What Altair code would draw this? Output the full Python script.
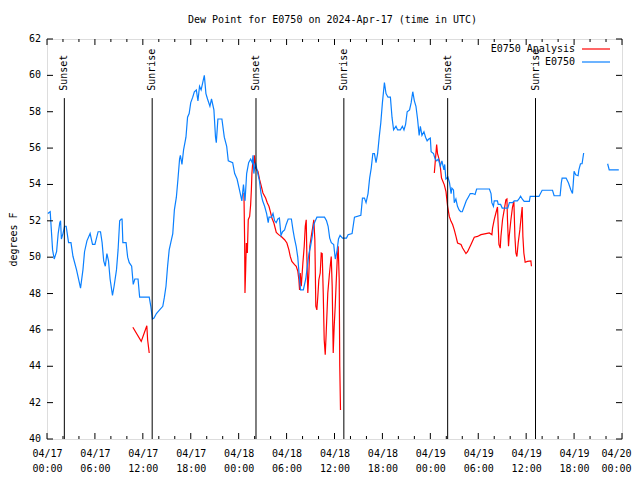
import altair as alt
import pandas as pd

# ---- data (hours since 2024-04-17 00:00 UTC, dew point in F) ----
# None marks a gap in the record
blue_hours = [0.1, 0.4, 0.7, 0.9, 1.2, 1.4, 1.6, 1.7, 1.8, 2.0, 2.2, 2.4, 2.7, 3.0, 3.25, 3.7, 4.2, 4.5, 4.7, 5.0,
              5.4, 5.7, 6.0, 6.4, 6.7, 6.9, 7.1, 7.3, 7.5, 7.7, 7.9, 8.2, 8.4, 8.7, 8.9, 9.1, 9.3, 9.4, 9.5, 9.9,
              10.1, 10.3, 10.6, 10.8, 11.0, 11.4, 11.6, 12.8, 13.0, 13.2, 13.4, 13.7, 14.1, 14.5, 14.7, 14.9, 15.1, 15.3, 15.5, 15.75,
              15.95, 16.2, 16.4, 16.6, 16.7, 16.9, 17.1, 17.4, 17.6, 17.8, 18.0, 18.25, 18.45, 18.7, 18.9, 19.1, 19.3, 19.5, 19.7, 19.9,
              20.1, 20.4, 20.6, 20.9, 21.1, 21.2, 21.4, 21.9, 22.2, 22.5, 22.7, 23.25, 23.5, 23.8, 24.1, 24.4, 24.6, 24.8, 25.0, 25.25,
              25.5, 25.7, 25.8, 25.9, 26.1, 26.4, 26.6, 26.8, 27.0, 27.25, 27.5, 27.7, 27.8, 28.1, 28.3, 28.5, 28.7, 28.9, 29.1, 29.3,
              29.5, 29.75, 29.95, 30.2, 30.6, 30.8, 31.0, 31.2, 31.4, 31.6, 31.75, 32.1, 32.4, 32.6, 32.8, 33.0, 33.2, 33.4, 33.6, 33.8,
              34.1, 34.75, 35.0, 35.2, 35.4, 35.6, 35.9, 36.1, 36.3, 36.5, 36.7, 37.0, 37.5, 37.7, 38.2, 38.5, 39.3, 39.5, 39.75, 39.95,
              40.2, 40.4, 40.6, 40.8, 41.0, 41.2, 41.4, 41.6, 41.8, 42.0, 42.25, 42.45, 42.7, 43.0, 43.2, 43.4, 43.7, 43.9, 44.25, 44.5,
              44.7, 44.9, 45.1, 45.4, 45.6, 45.8, 46.0, 46.2, 46.4, 46.6, 46.75, 46.95, 47.2, 47.4, 47.6, 47.8, 48.0, 48.1, 48.4, 48.6,
              48.8, 49.0, 49.25, 49.45, 49.7, 49.8, 49.95, 50.2, 50.4, 50.6, 50.7, 50.9, 51.0, 51.2, 51.4, 51.6, 51.8, 52.0, 52.25, 52.5,
              52.75, 53.0, 53.3, 53.6, 53.8, 55.4, 55.6, 55.7, 55.9, 56.0, 56.4, 56.5, 56.8, 57.0, 57.7, 57.9, 58.3, 58.5, 58.9, 59.1,
              59.3, 59.5, 59.75, 60.4, 60.5, 61.6, 62.0, 63.3, 63.5, 64.25, 64.4, 64.5, 65.0, 65.3, 65.6, 65.8, 65.9, 66.0, 66.2, 66.5,
              66.6, 66.8, 67.0, 67.2, None, 70.2, 70.4, 71.6]
blue_vals = [52.4, 52.5, 50.4, 49.9, 50.3, 51.3, 51.9, 52.0, 51.0, 51.3, 51.7, 51.7, 50.8, 50.8, 50.05, 49.3, 48.3, 49.3, 50.3, 50.9,
             51.3, 50.7, 50.7, 51.4, 51.4, 50.8, 49.8, 49.5, 50.2, 49.8, 48.8, 47.9, 48.4, 49.3, 50.4, 52.0, 52.1, 52.1, 50.8, 50.8,
             50.0, 49.7, 49.5, 48.5, 48.8, 48.8, 47.8, 47.8, 47.3, 46.6, 46.65, 46.9, 47.1, 47.3, 47.8, 48.4, 49.5, 50.4, 50.8, 51.3,
             52.6, 53.3, 54.3, 55.4, 55.6, 55.1, 55.9, 56.6, 57.7, 57.9, 58.5, 58.8, 59.1, 59.2, 58.6, 59.4, 59.2, 59.6, 60.0, 59.0,
             58.7, 58.3, 58.7, 58.1, 56.6, 56.3, 57.6, 57.6, 56.6, 56.1, 55.3, 55.2, 54.6, 54.3, 53.7, 53.1, 54.0, 53.1, 54.6, 55.2,
             55.4, 55.2, 55.6, 54.6, 55.2, 54.6, 54.2, 53.5, 53.1, 52.8, 52.4, 51.9, 52.2, 52.2, 52.4, 52.0, 51.9, 52.1, 52.15, 51.2,
             51.4, 51.5, 51.8, 52.1, 52.1, 51.5, 51.0, 50.6, 50.0, 48.9, 48.2, 48.2, 48.8, 49.5, 50.2, 50.6, 51.1, 51.8, 52.0, 52.2,
             52.2, 52.2, 52.0, 51.7, 51.05, 50.8, 50.7, 49.9, 50.3, 51.0, 51.2, 51.05, 51.05, 51.24, 51.3, 52.2, 52.3, 53.25, 53.25, 53.0,
             53.5, 54.35, 54.9, 55.7, 55.7, 55.2, 55.7, 56.6, 57.4, 58.5, 59.6, 59.0, 58.8, 58.8, 57.7, 57.0, 57.2, 57.0, 57.0, 57.2,
             57.0, 57.3, 58.0, 58.1, 58.5, 59.1, 58.6, 58.3, 57.6, 56.7, 57.2, 56.7, 56.9, 56.6, 56.4, 56.5, 56.55, 55.8, 55.7, 55.4,
             55.3, 55.4, 55.0, 55.3, 54.8, 55.1, 54.3, 54.4, 54.1, 53.5, 53.8, 53.7, 53.0, 53.2, 52.8, 52.6, 52.5, 52.5, 52.8, 53.1,
             53.3, 53.5, 53.5, 53.45, 53.75, 53.75, 53.5, 53.0, 52.8, 53.1, 53.1, 52.9, 52.9, 52.7, 52.7, 53.0, 53.0, 53.1, 53.1, 53.2,
             53.35, 53.2, 53.07, 53.07, 53.34, 53.34, 53.68, 53.68, 53.38, 53.38, 54.08, 54.35, 54.35, 54.08, 53.7, 53.5, 54.08, 54.72, 54.53, 54.48,
             54.8, 55.14, 55.14, 55.73, None, 55.14, 54.8, 54.8]

red_hours = [10.75, 11.8, 12.5, 12.6, 12.8, None,
             24.66, 24.75, 24.79, 24.875, 24.96, 25.09, 25.2, 25.375, 25.5, 25.59, 25.66, 25.79, 25.875, 25.96,
             26.125, 26.41, 26.625, 26.84, 27.04, 27.375, 27.59, 27.79, 27.96, 28.16, 28.41, 28.71, 29.0, 29.34, 29.75, 30.04,
             30.29, 30.46, 30.66, 31.0, 31.21, 31.41, 31.54, 31.625, 31.71, 31.84, 32.04, 32.21, 32.34, 32.46, 32.54, 32.66,
             32.79, 32.91, 33.09, 33.29, 33.41, 33.54, 33.66, 33.79, 33.91, 34.04, 34.21, 34.34, 34.46, 34.59, 34.71, 34.84,
             34.96, 35.16, 35.375, 35.59, 35.71, 35.84, 35.96, 36.09, 36.21, 36.34, 36.46, 36.59, 36.66, 36.75, None,
             48.5, 48.79, 48.9, 49.0, 49.2, 49.4, 49.75, 49.96, 50.16, 50.375, 50.59, 50.79, 51.0, 51.21, 51.41, 51.84,
             52.04, 52.46, 52.66, 53.09, 53.5, 53.91, 54.34, 54.96, 55.375, 55.71, 55.79, 56.0, 56.21, 56.41, 56.5, 56.59,
             56.75, 56.84, 57.04, 57.25, 57.46, 57.59, 57.66, 57.79, 57.875, 58.09, 58.29, 58.46, 58.59, 58.71, 58.84, 59.0,
             59.21, 59.375, 59.5, 59.59, 59.71, 59.875, 60.16, 60.59, 60.66]
red_vals = [46.15, 45.37, 46.23, 45.46, 44.73, None,
            53.53, 50.78, 48.03, 49.3, 50.78, 50.23, 52.06, 52.24, 52.88, 53.7, 54.63, 55.36, 55.0, 55.6,
            54.9, 54.72, 54.26, 53.9, 53.53, 53.25, 52.98, 52.8, 52.52, 52.15, 51.88, 51.36, 51.24, 51.14, 50.96, 50.78,
            50.4, 50.04, 49.77, 49.59, 49.5, 49.22, 48.76, 48.2, 49.13, 48.4, 49.68, 50.6, 51.7, 52.06, 50.04, 48.03,
            49.13, 50.6, 51.14, 51.7, 52.06, 50.96, 47.3, 47.1, 47.84, 48.76, 49.13, 50.23, 50.2, 48.03, 45.46, 44.64,
            45.83, 48.03, 49.13, 50.04, 48.4, 44.73, 46.19, 47.3, 48.58, 49.86, 50.6, 48.76, 44.0, 41.6, None,
            54.63, 56.19, 55.7, 55.54, 55.18, 54.35, 53.98, 53.6, 52.8, 52.24, 51.97, 51.8, 51.5, 51.14, 50.78, 50.7,
            50.5, 50.2, 50.3, 50.7, 51.1, 51.14, 51.24, 51.3, 51.33, 51.24, 51.6, 52.06, 52.43, 52.76, 51.7, 50.7,
            50.5, 51.14, 52.06, 52.6, 53.16, 53.2, 52.06, 50.6, 51.14, 52.06, 52.76, 53.07, 51.14, 50.23, 50.04, 50.78,
            51.5, 52.24, 52.76, 51.14, 50.23, 49.72, 49.77, 49.8, 49.5]

sun_hours = [2.17, 13.17, 26.17, 37.17, 50.17, 61.17]
sun_labels = ["Sunset", "Sunrise", "Sunset", "Sunrise", "Sunset", "Sunrise"]

series_names = ["E0750 Analysis", "E0750"]
series_colors = ["#ff0000", "#0a80ff"]

x_major = list(range(0, 73, 6))
x_minor = [h for h in range(0, 73, 2) if h % 6 != 0]
y_ticks = list(range(40, 63, 2))

title_text = "Dew Point for E0750 on 2024-Apr-17 (time in UTC)"
y_title = "degrees F"

# ---- helpers ----
def to_frame(hours, vals):
    rows, seg = [], 0
    for h, v in zip(hours, vals):
        if h is None or v is None:
            seg += 1
            continue
        rows.append({"h": h, "v": v, "seg": seg})
    return pd.DataFrame(rows)

blue_df = to_frame(blue_hours, blue_vals)
red_df = to_frame(red_hours, red_vals)
sun_df = pd.DataFrame({"h": sun_hours, "label": sun_labels})
xmaj_df = pd.DataFrame({"h": x_major})
xmin_df = pd.DataFrame({"h": x_minor})
yt_df = pd.DataFrame({"v": y_ticks, "lab": [str(v) for v in y_ticks]})
title_df = pd.DataFrame({"t": [title_text]})

FONT = "DejaVu Sans Mono"
W, H = 575, 400

xscale = alt.Scale(domain=[0, 72], nice=False, zero=False)
yscale = alt.Scale(domain=[40, 62], nice=False, zero=False)

label_expr = ("['04/' + (17 + floor(datum.value / 24)), "
              "(datum.value % 24 < 10 ? '0' : '') + (datum.value % 24) + ':00']")

xaxis = alt.Axis(values=x_major, labelExpr=label_expr, ticks=False, domain=False, grid=False,
                 labelPadding=9, labelLineHeight=15, labelFont=FONT, labelFontSize=10,
                 labelColor="black", title=None, labelFlush=False, labelOverlap=False,
                 labelOffset=alt.ConditionalAxisNumber(condition={"test": "datum.value == 72", "value": -6},
                                                       value=0))
yaxis = alt.Axis(values=y_ticks, ticks=False, domain=False, grid=False, labels=False,
                 title=y_title,
                 titleFont=FONT, titleFontSize=10, titleFontWeight="normal", titleColor="black",
                 titleX=-34, titleY=H / 2, titleAngle=270, titleAlign="center", titleBaseline="middle")

red_line = alt.Chart(red_df).mark_line(color=series_colors[0], strokeWidth=1.2).encode(
    x=alt.X("h:Q", scale=xscale, axis=xaxis),
    y=alt.Y("v:Q", scale=yscale, axis=yaxis),
    detail="seg:N",
    order="h:Q",
)
blue_line = alt.Chart(blue_df).mark_line(color=series_colors[1], strokeWidth=1.2).encode(
    x=alt.X("h:Q", scale=xscale, axis=xaxis),
    y=alt.Y("v:Q", scale=yscale, axis=yaxis),
    detail="seg:N",
    order="h:Q",
)

sun_rules = alt.Chart(sun_df).mark_rule(color="black", strokeWidth=1).encode(
    x=alt.X("h:Q", scale=xscale, axis=xaxis),
    y=alt.datum(58.75),
    y2=alt.datum(40),
)
sun_text = alt.Chart(sun_df).mark_text(angle=270, align="left", baseline="middle", font=FONT,
                                       fontSize=10, color="black").encode(
    x=alt.X("h:Q", scale=xscale, axis=xaxis),
    y=alt.datum(59.15),
    text="label:N",
)

def xticks(df, length):
    bottom = alt.Chart(df).mark_rule(color="black").encode(
        x=alt.X("h:Q", scale=xscale, axis=xaxis), y=alt.value(H), y2=alt.value(H - length))
    top = alt.Chart(df).mark_rule(color="black").encode(
        x=alt.X("h:Q", scale=xscale, axis=xaxis), y=alt.value(0), y2=alt.value(length))
    return [bottom, top]

ytick_left = alt.Chart(yt_df).mark_rule(color="black").encode(
    y=alt.Y("v:Q", scale=yscale, axis=yaxis), x=alt.value(0), x2=alt.value(6))
ytick_right = alt.Chart(yt_df).mark_rule(color="black").encode(
    y=alt.Y("v:Q", scale=yscale, axis=yaxis), x=alt.value(W), x2=alt.value(W - 6))
ytick_labels = alt.Chart(yt_df).mark_text(align="right", baseline="middle", font=FONT,
                                          fontSize=10, color="black").encode(
    y=alt.Y("v:Q", scale=yscale, axis=yaxis), x=alt.value(-6), text="lab:N")

leg_df = pd.DataFrame({"name": series_names, "color": series_colors})
legend_layers = []
for i, (nm, col) in enumerate(zip(series_names, series_colors)):
    d = leg_df.iloc[[i]]
    ypix = 10 + 13 * i
    legend_layers.append(alt.Chart(d).mark_text(align="right", baseline="middle", font=FONT,
                                                fontSize=10, color="black").encode(
        x=alt.value(528), y=alt.value(ypix), text="name:N"))
    legend_layers.append(alt.Chart(d).mark_rule(color=col, strokeWidth=1.2).encode(
        x=alt.value(535), x2=alt.value(563), y=alt.value(ypix)))

title_mark = alt.Chart(title_df).mark_text(align="center", baseline="alphabetic", font=FONT,
                                           fontSize=10, color="black").encode(
    x=alt.value(W / 2 - 2), y=alt.value(-16), text="t:N")

chart = alt.layer(
    red_line, blue_line, sun_rules, sun_text,
    *xticks(xmaj_df, 6), *xticks(xmin_df, 3), ytick_left, ytick_right, ytick_labels,
    *legend_layers, title_mark,
).properties(
    width=W, height=H,
    autosize=alt.AutoSizeParams(type="none"),
    padding={"left": 39, "top": 31, "right": 10, "bottom": 33},
).configure_view(stroke="black", strokeWidth=1).configure_axis(
    labelOverlap=False
).configure(background="white")

chart.save("out.html", embed_options={"renderer": "svg", "actions": False})
